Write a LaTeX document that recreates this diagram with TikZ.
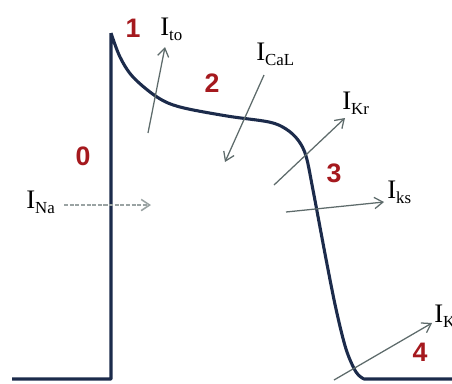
\documentclass[tikz,border=0pt]{standalone}
\usepackage{fontspec}
\setmainfont{Liberation Serif}
\newfontfamily\numfont{Liberation Sans}
\usepackage{xcolor}
\usetikzlibrary{arrows.meta,positioning}
\definecolor{apline}{HTML}{1C2B4B}
\definecolor{phasered}{HTML}{A5191E}
\definecolor{currentgray}{HTML}{5E6B6B}
\definecolor{nagray}{HTML}{9AA3A3}
\newcommand{\cur}[2]{I\raisebox{-0.45ex}{\fontsize{12}{12}\selectfont #2}}
\tikzset{
  phase/.style={text=phasered, font=\fontsize{19}{19}\selectfont\numfont\bfseries, inner sep=0pt},
  curlbl/.style={font=\fontsize{19}{19}\selectfont, inner sep=0pt, anchor=base west},
  current/.style={-{Straight Barb[length=6pt,width=8pt]}, line width=0.9pt, color=currentgray},
  nacurrent/.style={-{Straight Barb[length=6pt,width=8pt]}, line width=1.1pt, color=nagray, dash pattern=on 3pt off 1pt},
}

\begin{document}
\begin{tikzpicture}[x=0.025cm, y=-0.025cm]
  \useasboundingbox (0,0) rectangle (452,383);
  \clip (0,0) rectangle (452,383);

  % action potential trace
  \draw[apline, line width=2.2pt, line join=round]
    (12,379) -- (111,379) -- (111,33)
    plot[smooth, tension=0.55] coordinates {(111,33) (120,57) (133,77) (157,97) (180,107) (227,116) (269,122) (286,129) (298,140) (306,156) (313,190) (326,259) (336,309) (346,349) (356,372) (364,379)}
    -- (452,379);

  % phase numbers
  \node[phase] (p0) at (83,156) {0};
  \node[phase] (p1) at (133,28) {1};
  \node[phase] (p2) at (212,83) {2};
  \node[phase] (p3) at (334,173) {3};
  \node[phase] (p4) at (420,352) {4};

  % ionic currents
  \coordinate (na-a) at (64,205);  \coordinate (na-b) at (151,205);
  \coordinate (to-a) at (148,133); \coordinate (to-b) at (165,47);
  \coordinate (cal-a) at (264,75); \coordinate (cal-b) at (225,162);
  \coordinate (kr-a) at (274,185); \coordinate (kr-b) at (345,118);
  \coordinate (ks-a) at (286,212); \coordinate (ks-b) at (384,202);
  \coordinate (k1-a) at (334,380); \coordinate (k1-b) at (432,323);

  \node[curlbl] (ina) at (26,208) {\cur{}{Na}};
  \node[curlbl] (ito) at (160,35) {\cur{}{to}};
  \node[curlbl] (ical) at (256,60) {\cur{}{CaL}};
  \node[curlbl] (ikr) at (342,109) {\cur{}{Kr}};
  \node[curlbl] (iks) at (387,198) {\cur{}{ks}};
  \node[curlbl] (ik1) at (434,322) {\cur{}{K1}};

  \draw[nacurrent] (na-a) -- (na-b);
  \draw[current] (to-a) -- (to-b);
  \draw[current] (cal-a) -- (cal-b);
  \draw[current] (kr-a) -- (kr-b);
  \draw[current] (ks-a) -- (ks-b);
  \draw[current] (k1-a) -- (k1-b);

\end{tikzpicture}
\end{document}
